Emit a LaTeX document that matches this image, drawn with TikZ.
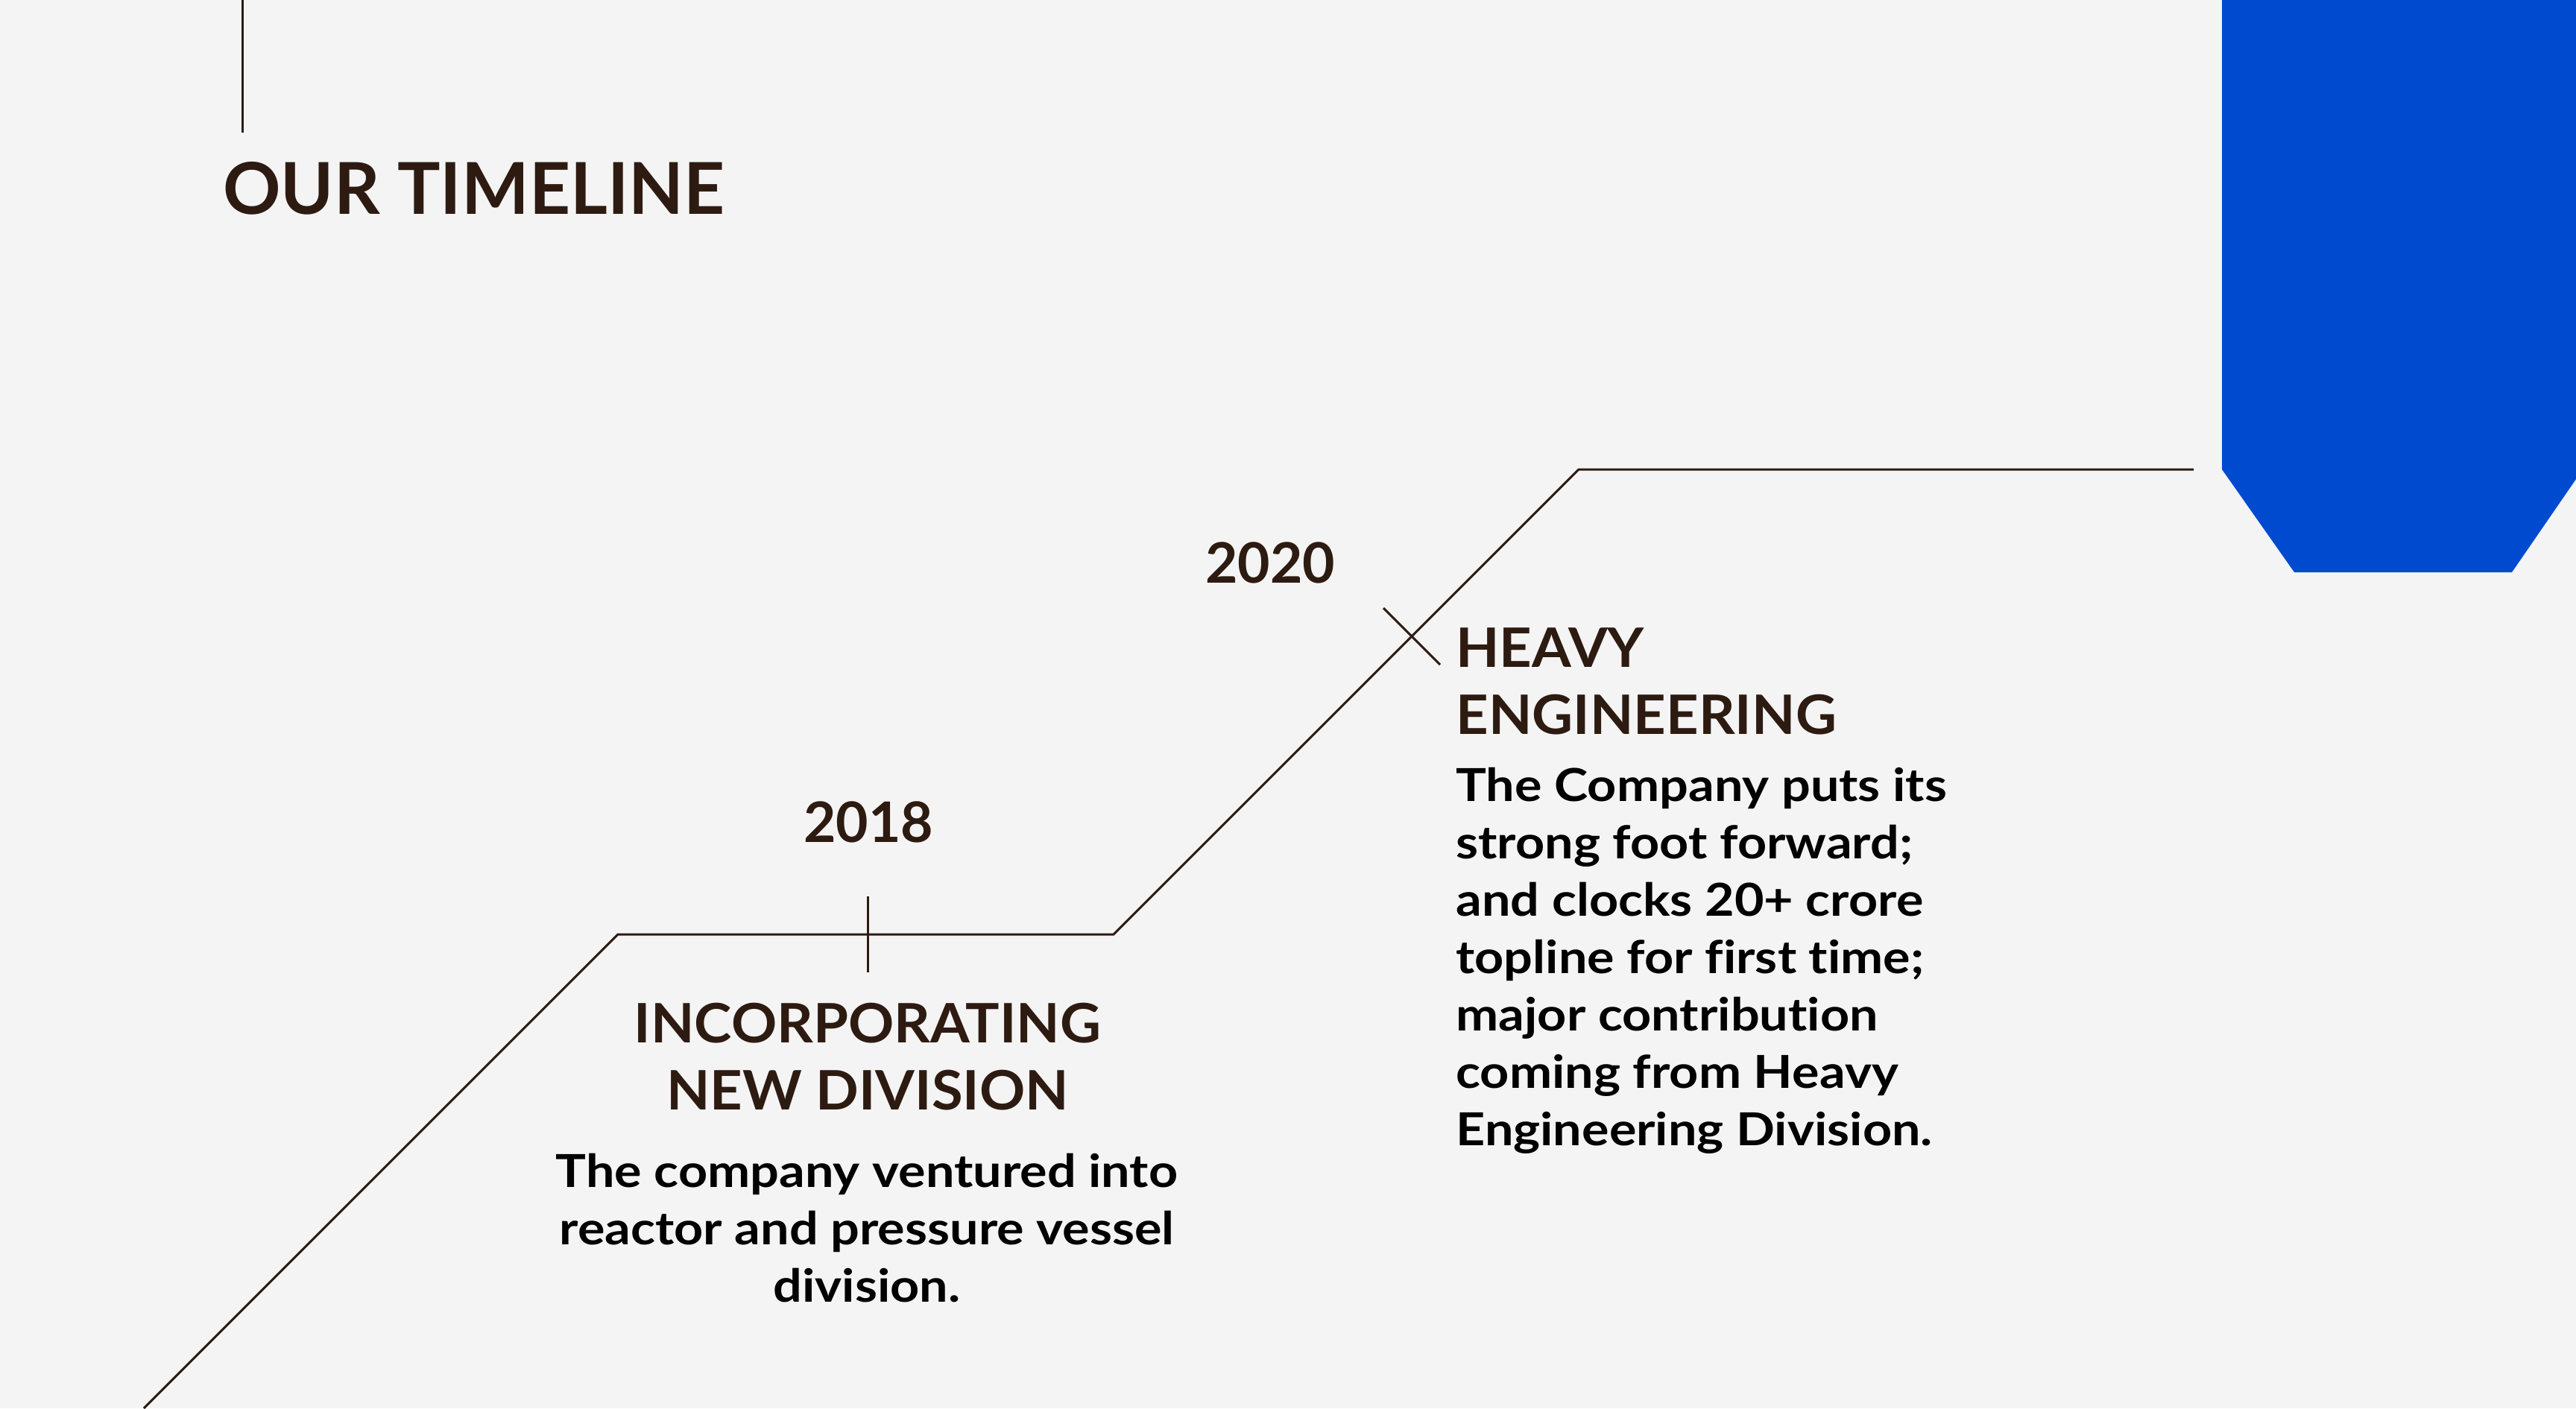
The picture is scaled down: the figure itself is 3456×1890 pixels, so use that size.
\documentclass[tikz,border=0pt]{standalone}
\usepackage{fontspec}
\setmainfont{Lato}[Ligatures=NoCommon]
\newfontfamily\bodyfam{Lato}[FakeStretch=1.12,Ligatures=NoCommon]
\newfontfamily\headfam{Lato}[FakeStretch=1.04,Ligatures=NoCommon]
\definecolor{bgc}{HTML}{F4F4F4}
\definecolor{bluec}{HTML}{004AD0}
\definecolor{brownc}{HTML}{2D1B12}
\begin{document}
\begin{tikzpicture}[x=0.5pt,y=-0.5pt,
  tline/.style={draw=brownc,line width=1.5pt},
  titlefont/.style={font=\fontsize{48}{56}\selectfont\bfseries,text=brownc,inner sep=0pt},
  yearfont/.style={font=\fontsize{37.5}{45}\selectfont\bfseries,text=brownc,inner sep=0pt},
  headfont/.style={font=\headfam\fontsize{36.5}{45}\selectfont\bfseries,text=brownc,inner sep=0pt},
  bodyfont/.style={font=\bodyfam\fontsize{30.5}{38.45}\selectfont\bfseries,text=black,inner sep=0pt}]
\useasboundingbox (0,0) rectangle (3456,1890);
\fill[bgc] (0,0) rectangle (3456,1890);
% blue tab
\fill[bluec] (2981,0) -- (2981,630) -- (3078,768) -- (3370,768) -- (3456,643) -- (3456,0) -- cycle;
% top-left vertical rule
\coordinate (vt) at (325,0);
\coordinate (vb) at (325,178);
\draw[tline] (vt) -- (vb);
% timeline path
\coordinate (p0) at (193,1890);
\coordinate (p1) at (829,1254);
\coordinate (p2) at (1494,1254);
\coordinate (p3) at (2118,630);
\coordinate (p4) at (2943,630);
\draw[tline,line join=miter] (p0) -- (p1) -- (p2) -- (p3) -- (p4);
% ticks
\coordinate (t1a) at (1164,1203);
\coordinate (t1b) at (1164,1305);
\draw[tline] (t1a) -- (t1b);
\coordinate (t2a) at (1856,816);
\coordinate (t2b) at (1932,892);
\draw[tline] (t2a) -- (t2b);
% texts (multi-line nodes anchored at the baseline of their last line)
\node[titlefont,anchor=base west] (title) at (299,287) {OUR TIMELINE};
\node[yearfont,anchor=base] (y18) at (1165,1130) {2018};
\node[yearfont,anchor=base] (y20) at (1704,782) {2020};
\node[headfont,anchor=base,align=center] (h18) at (1164,1489) {INCORPORATING\\NEW DIVISION};
\node[bodyfont,anchor=base,align=center] (b18) at (1163,1747) {The company ventured into\\reactor and pressure vessel\\division.};
\node[headfont,anchor=base west,align=left] (h20) at (1953,985) {HEAVY\\ENGINEERING};
\node[bodyfont,anchor=base west,align=left] (b20) at (1953,1537) {The Company puts its\\strong foot forward;\\and clocks 20+ crore\\topline for first time;\\major contribution\\coming from Heavy\\Engineering Division.};
\end{tikzpicture}
\end{document}
